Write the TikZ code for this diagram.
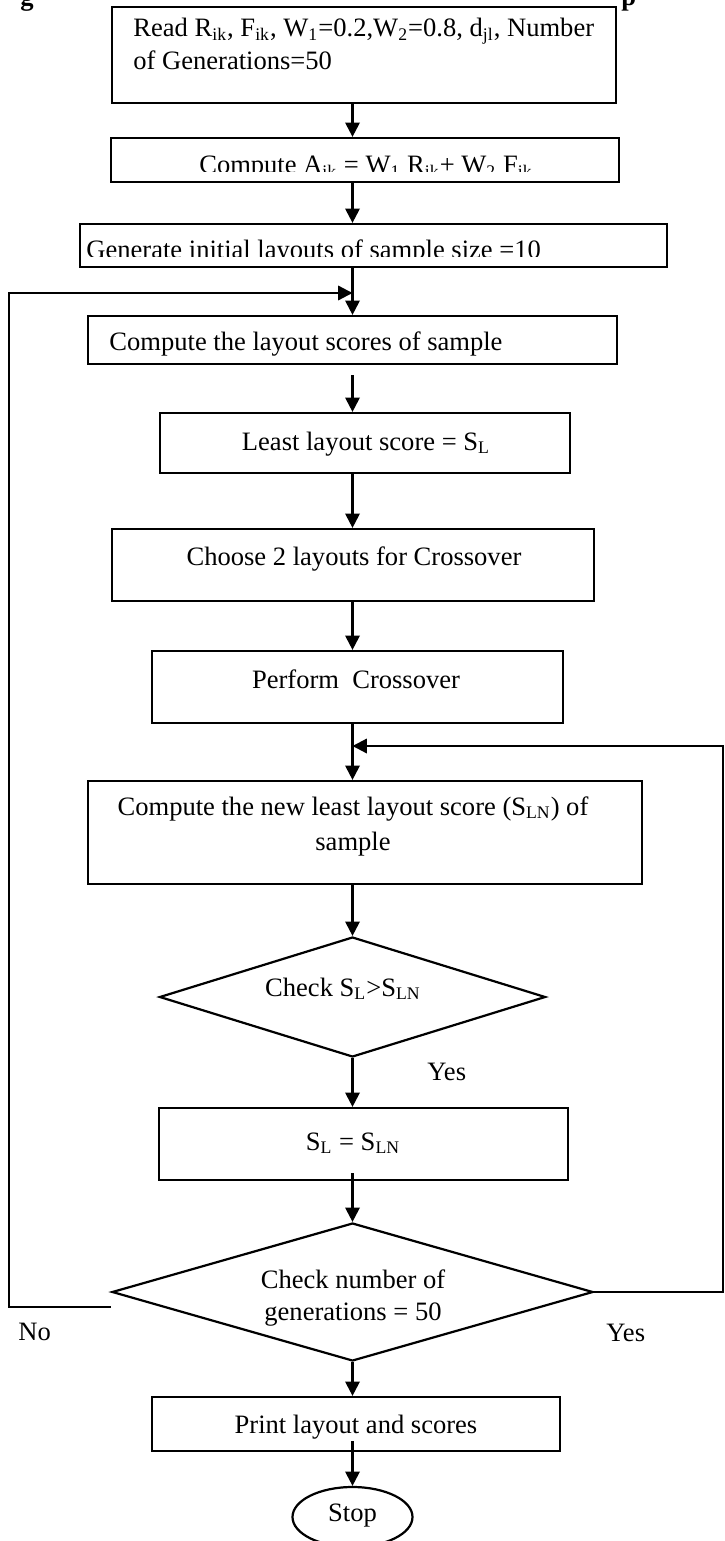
\documentclass[tikz,border=0pt]{standalone}
\usepackage{fontspec}
\setmainfont{Liberation Serif}
\usetikzlibrary{shapes.geometric,arrows.meta,calc}
% one drawing unit = one pixel of the layout grid
\def\pxu{0.452pt}
\begin{document}
\begin{tikzpicture}[x=\pxu,y=-\pxu,
  font=\fontsize{12pt}{15pt}\selectfont,
  box/.style={draw,line width=1pt,rectangle,inner sep=0pt},
  dia/.style={draw,line width=1pt,diamond,inner sep=0pt},
  oval/.style={draw,line width=1pt,ellipse,inner sep=0pt},
  lbl/.style={inner sep=0pt},
  link/.style={line width=1pt,line join=miter},
  arr/.style={link,-{Triangle[length=6.5pt,width=6.5pt]}}]
\useasboundingbox (0,0) rectangle (725,1541);

% ---- boxes ----
\node[box,minimum width={504*\pxu},minimum height={96*\pxu}] (read) at (364,55) {};
\node[box,minimum width={508*\pxu},minimum height={44*\pxu}] (cmpA) at (365,160) {};
\node[box,minimum width={587*\pxu},minimum height={43*\pxu}] (gen) at (373.5,245.5) {};
\node[box,minimum width={529*\pxu},minimum height={48*\pxu}] (score) at (352.5,340) {};
\node[box,minimum width={410*\pxu},minimum height={60*\pxu}] (least) at (365,443) {};
\node[box,minimum width={482*\pxu},minimum height={72*\pxu}] (choose) at (353,565) {};
\node[box,minimum width={411*\pxu},minimum height={72*\pxu}] (perf) at (357.5,687) {};
\node[box,minimum width={554*\pxu},minimum height={103*\pxu}] (newsc) at (365,832.5) {};
\node[dia,minimum width={386*\pxu},minimum height={120*\pxu}] (chk1) at (352.5,997) {};
\node[box,minimum width={409*\pxu},minimum height={72*\pxu}] (upd) at (363.5,1144) {};
\node[dia,minimum width={481*\pxu},minimum height={138*\pxu}] (chk2) at (352.5,1292) {};
\node[box,minimum width={408*\pxu},minimum height={54*\pxu}] (prn) at (356,1424) {};
\node[oval,minimum width={120*\pxu},minimum height={60*\pxu}] (stop) at (352.5,1517) {};

% ---- texts ----
\begin{scope}
  \clip (0,0) rectangle (725,14);
  \node[lbl,anchor=base west,font=\fontsize{12pt}{15pt}\selectfont\bfseries] (ttlA) at (20,6) {g};
  \node[lbl,anchor=base west,font=\fontsize{12pt}{15pt}\selectfont\bfseries] (ttlB) at (621,6) {p};
\end{scope}
\node[lbl,anchor=base west] (readA) at (133,37) {Read R\textsubscript{ik}, F\textsubscript{ik}, W\textsubscript{1}=0.2,W\textsubscript{2}=0.8, d\textsubscript{jl}, Number};
\node[lbl,anchor=base west] (readB) at (133,70) {of Generations=50};
% these two texts overflow their boxes and are cut along the lower edge
\begin{scope}
  \clip (100,130) rectangle (640,172);
  \node[lbl,anchor=base] (cmpAtx) at (366,174) {Compute A\textsubscript{ik} = W\textsubscript{1} R\textsubscript{ik}+ W\textsubscript{2} F\textsubscript{ik}};
\end{scope}
\begin{scope}
  \clip (70,230) rectangle (680,257);
  \node[lbl,anchor=base west] (gentx) at (86,259) {Generate initial layouts of sample size =10};
\end{scope}
\node[lbl,anchor=base west] (scoretx) at (109,351) {Compute the layout scores of sample};
\node[lbl,anchor=base] (leasttx) at (366,450) {Least layout score = S\textsubscript{L}};
\node[lbl,anchor=base] (choosetx) at (354,565) {Choose 2 layouts for Crossover};
\node[lbl,anchor=base] (perftx) at (356,688) {Perform\ \ Crossover};
\node[lbl,anchor=base] (newscA) at (353,815) {Compute the new least layout score (S\textsubscript{LN}) of};
\node[lbl,anchor=base] (newscB) at (353,850) {sample};
\node[lbl,anchor=base] (chk1tx) at (343,996) {Check S\textsubscript{L}>S\textsubscript{LN}};
\node[lbl,anchor=base west] (yesA) at (427,1080) {Yes};
\node[lbl,anchor=base] (updtx) at (353,1150) {S\textsubscript{L} = S\textsubscript{LN}};
\node[lbl,anchor=base] (chk2A) at (353,1288) {Check number of};
\node[lbl,anchor=base] (chk2B) at (353,1320) {generations = 50};
\node[lbl,anchor=base west] (notx) at (18,1340) {No};
\node[lbl,anchor=base west] (yesB) at (606,1341) {Yes};
\node[lbl,anchor=base] (prntx) at (356,1433) {Print layout and scores};
\node[lbl,anchor=base] (stoptx) at (352.5,1521) {Stop};

% ---- connectors ----
\coordinate (ax) at (352.5,0);
\draw[arr] (read.south -| ax) -- (cmpA.north -| ax);
\draw[arr] (cmpA.south -| ax) -- (gen.north -| ax);
\draw[arr] (gen.south -| ax) -- (score.north -| ax);
\draw[arr] ($(score.south -| ax)+(0,10)$) -- (least.north -| ax);
\draw[arr] (least.south -| ax) -- (choose.north -| ax);
\draw[arr] (choose.south -| ax) -- (perf.north -| ax);
\draw[arr] (perf.south -| ax) -- (newsc.north -| ax);
\draw[arr] (newsc.south -| ax) -- (chk1.north);
\draw[arr] (chk1.south) -- (upd.north -| ax);
\draw[arr] ($(upd.south -| ax)+(0,-8)$) -- (chk2.north);
\draw[arr] (chk2.south) -- (prn.north -| ax);
\draw[arr] ($(prn.south -| ax)+(0,-11)$) -- (stop.north);

% ---- loops back ----
\coordinate (jL) at (352.5,293);
\coordinate (jR) at (352.5,746);
\coordinate (eL) at (9,0);
\coordinate (eR) at (723,0);
\draw[arr] ($(chk2.west)+(0,15)$) -| (eL |- jL) -- (jL);
\draw[arr] (chk2.east) -| (eR |- jR) -- (jR);
\end{tikzpicture}
\end{document}
